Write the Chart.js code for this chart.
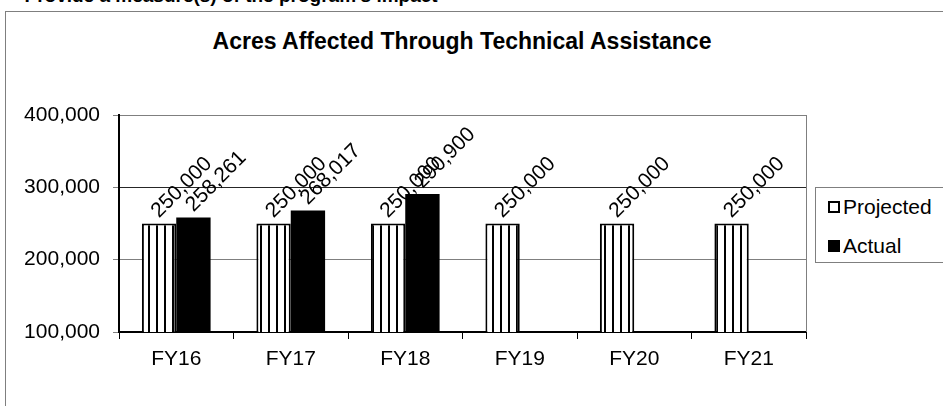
<!DOCTYPE html>
<html>
<head>
<meta charset="utf-8">
<script src="https://cdn.jsdelivr.net/npm/chart.js@4.4.0/dist/chart.umd.min.js"></script>
<style>
  html, body { margin: 0; padding: 0; background: #fff; }
  #wrap { position: relative; width: 943px; height: 406px; overflow: hidden; font-family: "Liberation Sans", Arial, sans-serif; }
  #frame { position: absolute; left: 5px; top: 11px; width: 960px; height: 420px; border: 1px solid #7f7f7f; }
  #heading { position: absolute; left: 2px; top: -14px; font-weight: bold; font-size: 19px; line-height: 19px; white-space: nowrap; }
  #title { position: absolute; left: 462px; top: 30px; transform: translateX(-50%); font-weight: bold; font-size: 23px; line-height: 23px; white-space: nowrap; }
  #chart { position: absolute; left: 0; top: 0; }
  #legend { position: absolute; left: 815px; top: 187px; width: 200px; height: 74px; border: 1px solid #7f7f7f; background: #fff; }
  .item { position: absolute; left: 27px; font-size: 21px; line-height: 21px; white-space: nowrap; }
  .mark { position: absolute; left: 12px; width: 12px; height: 12px; box-sizing: border-box; }
</style>
</head>
<body>
<div id="wrap">
  <div id="frame"></div>
  <div id="heading">&bull;&nbsp;&nbsp;&nbsp;Provide a measure(s) of the program's impact</div>
  <div id="title">Acres Affected Through Technical Assistance</div>
  <canvas id="chart" width="943" height="406"></canvas>
  <div id="legend">
    <div class="mark" style="top:13px; border:2px solid #000; background:#fff;"></div>
    <div class="item" style="top:8px;">Projected</div>
    <div class="mark" style="top:52px; background:#000;"></div>
    <div class="item" style="top:47px;">Actual</div>
  </div>
</div>
<script>
// chart data
const categories = ['FY16', 'FY17', 'FY18', 'FY19', 'FY20', 'FY21'];
const projected = [250000, 250000, 250000, 250000, 250000, 250000];
const actual = [258261, 268017, 290900, null, null, null];
const yTicks = [100000, 200000, 300000, 400000];

const fmt = v => v.toLocaleString('en-US');
const FONT = '"Liberation Sans", Arial, sans-serif';

// vertical stripe fill for the projected bars
function stripes() {
    const c = document.createElement('canvas');
    c.width = 8; c.height = 8;
    const g = c.getContext('2d');
    g.fillStyle = '#fff';
    g.fillRect(0, 0, 8, 8);
    g.fillStyle = '#000';
    g.fillRect(4, 0, 2, 8);
    return g.createPattern(c, 'repeat');
}

// right border of the plot area
const plotBorder = {
    id: 'plotBorder',
    beforeDatasetsDraw(chart) {
        const { ctx, chartArea: a } = chart;
        ctx.save();
        ctx.strokeStyle = '#7f7f7f';
        ctx.lineWidth = 1;
        ctx.beginPath();
        ctx.moveTo(a.right + 0.5, a.top);
        ctx.lineTo(a.right + 0.5, a.bottom);
        ctx.stroke();
        ctx.restore();
    }
};

// rotated value labels above bars
const barLabels = {
    id: 'barLabels',
    afterDatasetsDraw(chart) {
        const ctx = chart.ctx;
        chart.data.datasets.forEach((ds, i) => {
            chart.getDatasetMeta(i).data.forEach((bar, j) => {
                const v = ds.data[j];
                if (v == null) return;
                ctx.save();
                ctx.translate(bar.x, bar.y - 5);
                ctx.rotate(-Math.PI / 4);
                ctx.font = '21px ' + FONT;
                ctx.fillStyle = '#000';
                ctx.textAlign = 'left';
                ctx.textBaseline = 'alphabetic';
                ctx.fillText(fmt(v), 0, 0);
                ctx.restore();
            });
        });
    }
};

new Chart(document.getElementById('chart'), {
    type: 'bar',
    data: {
        labels: categories,
        datasets: [{
            label: 'Projected',
            data: projected,
            backgroundColor: stripes(),
            borderColor: '#000',
            borderWidth: 2,
            borderSkipped: false
        }, {
            label: 'Actual',
            data: actual,
            backgroundColor: '#000',
            borderColor: '#000',
            borderWidth: 0
        }]
    },
    options: {
        responsive: false,
        animation: false,
        devicePixelRatio: 1,
        categoryPercentage: 0.6,
        barPercentage: 1,
        layout: { padding: { left: 0, top: 115, right: 137, bottom: 0 } },
        plugins: { legend: { display: false }, title: { display: false }, tooltip: { enabled: false } },
        scales: {
            x: {
                afterFit: s => { s.height = 74; },
                grid: { offset: true, drawOnChartArea: false, tickLength: 7, tickColor: '#000' },
                border: { color: '#000', width: 2 },
                ticks: { color: '#000', font: { family: FONT, size: 21 }, padding: 8 }
            },
            y: {
                min: yTicks[0],
                max: yTicks[yTicks.length - 1],
                afterFit: s => { s.width = 119; },
                afterBuildTicks: s => { s.ticks = yTicks.map(v => ({ value: v })); },
                grid: {
                    tickLength: 6,
                    tickColor: '#7f7f7f',
                    color: c => (c.tick && c.tick.value === 300000) ? '#262626' : '#7f7f7f'
                },
                border: { color: '#000', width: 2 },
                ticks: { color: '#000', font: { family: FONT, size: 21 }, padding: 13, callback: v => fmt(v) }
            }
        }
    },
    plugins: [plotBorder, barLabels]
});
</script>
</body>
</html>
